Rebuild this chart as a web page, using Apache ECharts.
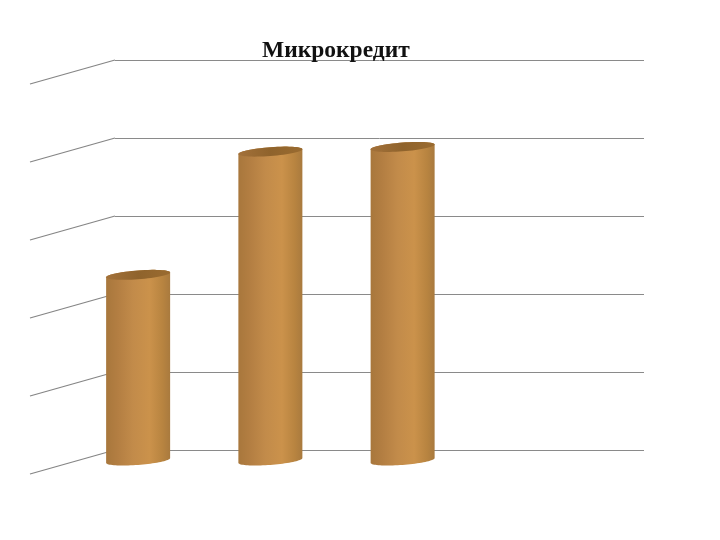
<!DOCTYPE html>
<html>
<head>
<meta charset="utf-8">
<style>html,body{margin:0;padding:0;background:#fff}#c{width:720px;height:540px}</style>
<script src="https://cdn.jsdelivr.net/npm/echarts@6/dist/echarts.min.js"></script>
</head>
<body>
<div id="c"></div>
<script>
const titleText = "Микрокредит";
const categories = ["1", "2", "3", "4"];
const values = [2.38, 3.96, 4.02, null];
const yTicks = [0, 1, 2, 3, 4, 5];

const chart = echarts.init(document.getElementById("c"), null, {renderer: "canvas"});

const depthX = -43, depthY = 10.5, halfW = 32, halfH = 4.4, tilt = 0.075;
function ellipsePoint(cx, cy, t) {
  const dx = halfW * Math.cos(t);
  return [cx + dx, cy + halfH * Math.sin(t) - tilt * dx];
}
function renderBar(params, api) {
  const v = api.value(1);
  if (v == null || isNaN(v)) return null;
  const top = api.coord([api.value(0), v]);
  const base = api.coord([api.value(0), 0]);
  const cx = top[0] + depthX, yt = top[1] + depthY, yb = base[1] + depthY;
  const body = [], cap = [];
  for (let i = 0; i <= 40; i++) {
    body.push(ellipsePoint(cx, yb, (i / 40) * Math.PI));
  }
  for (let i = 0; i <= 40; i++) {
    body.push(ellipsePoint(cx, yt, Math.PI + (i / 40) * Math.PI));
  }
  for (let i = 0; i < 60; i++) {
    cap.push(ellipsePoint(cx, yt, (i / 60) * 2 * Math.PI));
  }
  return {
    type: "group",
    children: [
      {
        type: "polygon",
        shape: {points: body},
        style: {
          fill: new echarts.graphic.LinearGradient(0, 0, 1, 0, [
            {offset: 0, color: "#a8773c"},
            {offset: 0.18, color: "#b37e42"},
            {offset: 0.42, color: "#c28b4a"},
            {offset: 0.68, color: "#cb924b"},
            {offset: 0.88, color: "#b88440"},
            {offset: 1, color: "#a97a3e"}
          ])
        }
      },
      {
        type: "polygon",
        shape: {points: cap},
        style: {
          fill: new echarts.graphic.LinearGradient(0, 0, 1, 0, [
            {offset: 0, color: "#a3713a"},
            {offset: 0.5, color: "#8f632c"},
            {offset: 1, color: "#9a6b30"}
          ])
        }
      }
    ]
  };
}
function renderWall(params, api) {
  const p = api.coord([0, api.value(1)]);
  const x0 = params.coordSys.x;
  return {
    type: "line",
    shape: {x1: x0, y1: p[1], x2: x0 - 85, y2: p[1] + 24},
    style: {stroke: "#858585", lineWidth: 1.2}
  };
}

chart.setOption({
  animation: false,
  backgroundColor: "#ffffff",
  title: {
    text: titleText,
    left: 257,
    top: 34,
    textStyle: {
      fontFamily: "Liberation Serif",
      fontWeight: "bold",
      fontSize: 23.5,
      color: "#111111"
    }
  },
  grid: {left: 115, right: 76, top: 60, bottom: 90},
  xAxis: {
    type: "category",
    data: categories,
    axisLine: {show: false},
    axisTick: {show: false},
    axisLabel: {show: false}
  },
  yAxis: {
    type: "value",
    min: 0,
    max: 5,
    interval: 1,
    axisLine: {show: false},
    axisTick: {show: false},
    axisLabel: {show: false},
    splitLine: {lineStyle: {color: "#8a8a8a", width: 1}}
  },
  series: [
    {
      type: "custom",
      name: "wall",
      renderItem: renderWall,
      encode: {x: 0, y: 1},
      data: yTicks.map(t => [0, t]),
      silent: true,
      z: 1
    },
    {
      type: "custom",
      name: titleText,
      renderItem: renderBar,
      encode: {x: 0, y: 1},
      data: categories.map((c, i) => [i, values[i]]),
      z: 2
    }
  ]
});
</script>
</body>
</html>
